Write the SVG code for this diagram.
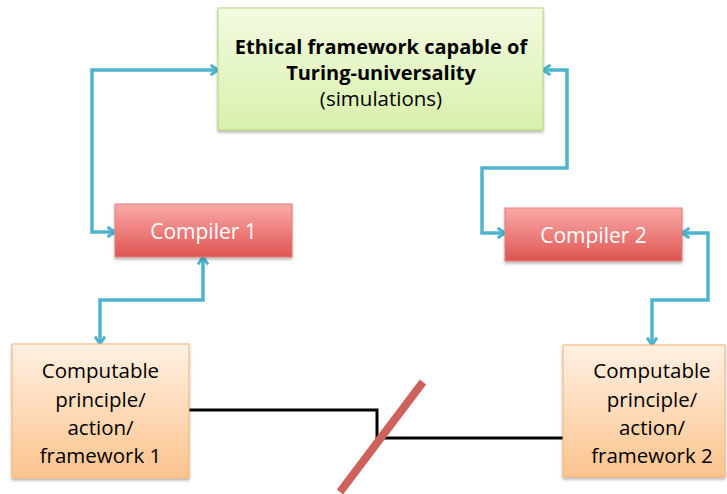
<svg xmlns="http://www.w3.org/2000/svg" width="727" height="494" viewBox="0 0 727 494">
<style>
text{font-family:"Open Sans","Liberation Sans",sans-serif;text-anchor:middle}
.t{font-size:20.5px;fill:#000}
.tb{font-size:20px;font-weight:bold;fill:#000}
.c{font-size:21px;fill:#fff}
.blue{fill:none;stroke:#4fb3cd;stroke-width:3.5;stroke-linejoin:miter;marker-start:url(#ah);marker-end:url(#ah)}
</style>
<defs>
<linearGradient id="gG" x1="0" y1="0" x2="0" y2="1"><stop offset="0" stop-color="#f2fbe0"/><stop offset="1" stop-color="#d9f0ac"/></linearGradient>
<linearGradient id="gR" x1="0" y1="0" x2="0" y2="1"><stop offset="0" stop-color="#f9aaa8"/><stop offset="1" stop-color="#df5552"/></linearGradient>
<linearGradient id="gO" x1="0" y1="0" x2="0" y2="1"><stop offset="0" stop-color="#fff0e2"/><stop offset="1" stop-color="#fcc48e"/></linearGradient>
<filter id="sh" x="-10%" y="-10%" width="120%" height="130%"><feDropShadow dx="0" dy="2" stdDeviation="1.5" flood-color="#000" flood-opacity="0.3"/></filter>
<marker id="ah" viewBox="0 0 10 12" refX="8.5" refY="6" markerWidth="10" markerHeight="12" markerUnits="userSpaceOnUse" orient="auto-start-reverse"><path d="M1,1 L8.5,6 L1,11" fill="none" stroke="#4fb3cd" stroke-width="3"/></marker>
</defs>
<g id="connectors">
<path class="blue" d="M115,232 H92 V70 H218"/>
<path class="blue" d="M543,70 H567 V168 H482 V233 H505"/>
<path class="blue" d="M203,257 V300 H100 V344"/>
<path class="blue" d="M682,233 H708 V300 H652 V345"/>
<path d="M189,410 H377 V438 H563" fill="none" stroke="#000" stroke-width="3"/>
<line x1="423" y1="382" x2="340" y2="492" stroke="#cd625c" stroke-width="8"/>
</g>
<g id="top">
<rect x="218" y="8" width="325" height="122" fill="url(#gG)" stroke="#b4d57a" stroke-width="1" filter="url(#sh)"/>
<text class="tb" x="381" y="54">Ethical framework capable of</text>
<text class="tb" x="381" y="80">Turing-universality</text>
<text class="t" x="381" y="106">(simulations)</text>
</g>
<g id="compiler1">
<rect x="115" y="204" width="177" height="53" fill="url(#gR)" stroke="#e07c7a" stroke-width="1" filter="url(#sh)"/>
<text class="c" x="203.5" y="239">Compiler 1</text>
</g>
<g id="compiler2">
<rect x="505" y="208" width="177" height="53" fill="url(#gR)" stroke="#e07c7a" stroke-width="1" filter="url(#sh)"/>
<text class="c" x="593.5" y="243">Compiler 2</text>
</g>
<g id="framework1">
<rect x="12" y="344" width="177" height="134" fill="url(#gO)" stroke="#f8b070" stroke-width="1" filter="url(#sh)"/>
<text class="t" x="100.5" y="378">Computable</text>
<text class="t" x="100.5" y="407">principle/</text>
<text class="t" x="100.5" y="435">action/</text>
<text class="t" x="100.5" y="463">framework 1</text>
</g>
<g id="framework2">
<rect x="563" y="345" width="162" height="132" fill="url(#gO)" stroke="#f8b070" stroke-width="1" filter="url(#sh)"/>
<text class="t" x="652" y="378">Computable</text>
<text class="t" x="652" y="407">principle/</text>
<text class="t" x="652" y="435">action/</text>
<text class="t" x="652" y="463">framework 2</text>
</g>
</svg>
